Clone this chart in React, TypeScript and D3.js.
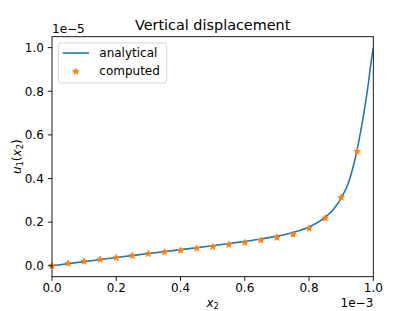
import React, { useEffect, useRef } from 'react';
import * as d3 from 'd3';

// x in units of 1e-3, u in units of 1e-5
const lineX = [0, 0.1, 0.2, 0.3, 0.4, 0.5, 0.6, 0.65, 0.7, 0.75, 0.8, 0.85, 0.875, 0.9, 0.925, 0.94, 0.95, 0.96, 0.975, 0.985, 0.99, 1.0];
const lineY = [0, 0.019, 0.038, 0.056, 0.074, 0.092, 0.112, 0.123, 0.136, 0.153, 0.178, 0.222, 0.257, 0.31, 0.39, 0.47, 0.535, 0.61, 0.74, 0.84, 0.9, 1.0];

const starX = [0, 0.05, 0.1, 0.15, 0.2, 0.25, 0.3, 0.35, 0.4, 0.45, 0.5, 0.55, 0.6, 0.65, 0.7, 0.75, 0.8, 0.85, 0.9, 0.95];
const starY = [0, 0.011, 0.02, 0.029, 0.037, 0.046, 0.055, 0.063, 0.071, 0.08, 0.087, 0.097, 0.106, 0.117, 0.129, 0.144, 0.172, 0.218, 0.313, 0.524];

const xTicks = [0, 0.2, 0.4, 0.6, 0.8, 1.0];
const yTicks = [0, 0.2, 0.4, 0.6, 0.8, 1.0];

const W = 415;
const H = 311;
const FONT = 'DejaVu Sans, sans-serif';
const FS = 12;
const SUB = 8.4;

const App: React.FC = () => {
    const svgRef = useRef<SVGSVGElement>(null);

    useEffect(() => {
        if (!svgRef.current) return;
        const svg = d3.select(svgRef.current);
        svg.selectAll('*').remove();

        const left = 52, right = 373.3, top = 36.7, bottom = 276.7;

        const x = d3.scaleLinear().domain([0, 1]).range([left, right]);
        const y = d3.scaleLinear().domain([-0.05, 1.05]).range([bottom, top]);

        svg.append('rect').attr('width', W).attr('height', H).attr('fill', '#fff');

        const plot = svg.append('g');
        plot.append('defs').append('clipPath').attr('id', 'clip')
            .append('rect')
            .attr('x', left).attr('y', top)
            .attr('width', right - left).attr('height', bottom - top);

        // analytical line
        const pts: [number, number][] = lineX.map((v, i) => [v, lineY[i]]);
        const line = d3.line<[number, number]>()
            .x(d => x(d[0]))
            .y(d => y(d[1]))
            .curve(d3.curveMonotoneX);
        plot.append('path')
            .attr('d', line(pts))
            .attr('fill', 'none')
            .attr('stroke', '#1f77b4')
            .attr('stroke-width', 1.6)
            .attr('clip-path', 'url(#clip)');

        // computed stars
        const star = d3.symbol().type(d3.symbolStar).size(12.5);
        starX.forEach((v, i) => {
            plot.append('path')
                .attr('d', star())
                .attr('transform', `translate(${x(v)},${y(starY[i])})`)
                .attr('fill', '#ff7f0e')
                .attr('stroke', '#ff7f0e')
                .attr('stroke-width', 1);
        });

        // spines
        svg.append('rect')
            .attr('x', left).attr('y', top)
            .attr('width', right - left).attr('height', bottom - top)
            .attr('fill', 'none').attr('stroke', '#000').attr('stroke-width', 0.9);

        // x ticks
        const xAxis = svg.append('g').attr('font-family', FONT).attr('font-size', FS);
        xTicks.forEach(t => {
            xAxis.append('line')
                .attr('x1', x(t)).attr('x2', x(t))
                .attr('y1', bottom).attr('y2', bottom + 4.2)
                .attr('stroke', '#000').attr('stroke-width', 0.9);
            xAxis.append('text')
                .attr('x', x(t)).attr('y', 292.3)
                .attr('text-anchor', 'middle')
                .text(t.toFixed(1));
        });
        xAxis.append('text')
            .attr('x', right).attr('y', 307)
            .attr('text-anchor', 'end')
            .text('1e\u22123');

        // y ticks
        const yAxis = svg.append('g').attr('font-family', FONT).attr('font-size', FS);
        yTicks.forEach(t => {
            yAxis.append('line')
                .attr('x1', left - 4.2).attr('x2', left)
                .attr('y1', y(t)).attr('y2', y(t))
                .attr('stroke', '#000').attr('stroke-width', 0.9);
            yAxis.append('text')
                .attr('x', left - 8.2).attr('y', y(t))
                .attr('dy', '0.36em')
                .attr('text-anchor', 'end')
                .text(t.toFixed(1));
        });
        yAxis.append('text')
            .attr('x', left).attr('y', 33)
            .text('1e\u22125');

        // title
        svg.append('text')
            .attr('x', (left + right) / 2).attr('y', 29.5)
            .attr('text-anchor', 'middle')
            .attr('font-family', FONT).attr('font-size', 14.4)
            .text('Vertical displacement');

        // x label
        const xl = svg.append('text')
            .attr('x', (left + right) / 2).attr('y', 307)
            .attr('text-anchor', 'middle')
            .attr('font-family', FONT).attr('font-size', FS);
        xl.append('tspan').attr('font-style', 'italic').text('x');
        xl.append('tspan').attr('font-size', SUB).attr('dy', 2.4).text('2');

        // y label
        const yl = svg.append('text')
            .attr('transform', `translate(20.5,${(top + bottom) / 2}) rotate(-90)`)
            .attr('text-anchor', 'middle')
            .attr('font-family', FONT).attr('font-size', FS);
        yl.append('tspan').attr('font-style', 'italic').text('u');
        yl.append('tspan').attr('font-size', SUB).attr('dy', 2.4).text('1');
        yl.append('tspan').attr('dy', -2.4).text('(');
        yl.append('tspan').attr('font-style', 'italic').text('x');
        yl.append('tspan').attr('font-size', SUB).attr('dy', 2.4).text('2');
        yl.append('tspan').attr('dy', -2.4).text(')');

        // legend
        const lg = svg.append('g').attr('font-family', FONT).attr('font-size', FS);
        lg.append('rect')
            .attr('x', 58.3).attr('y', 43)
            .attr('width', 108.4).attr('height', 40)
            .attr('rx', 3)
            .attr('fill', '#fff').attr('fill-opacity', 0.8)
            .attr('stroke', '#d0d0d0').attr('stroke-width', 0.9);
        lg.append('line')
            .attr('x1', 62.7).attr('x2', 89)
            .attr('y1', 53).attr('y2', 53)
            .attr('stroke', '#1f77b4').attr('stroke-width', 1.6);
        lg.append('text').attr('x', 99.3).attr('y', 57).text('analytical');
        lg.append('path')
            .attr('d', star())
            .attr('transform', 'translate(75.8,71.5)')
            .attr('fill', '#ff7f0e')
            .attr('stroke', '#ff7f0e')
            .attr('stroke-width', 1);
        lg.append('text').attr('x', 99.3).attr('y', 75.3).text('computed');
    }, []);

    return (
        <svg
            ref={svgRef}
            width={W}
            height={H}
            style={{ position: 'absolute', left: 0, top: 0, display: 'block' }}
        />
    );
};

export default App;
